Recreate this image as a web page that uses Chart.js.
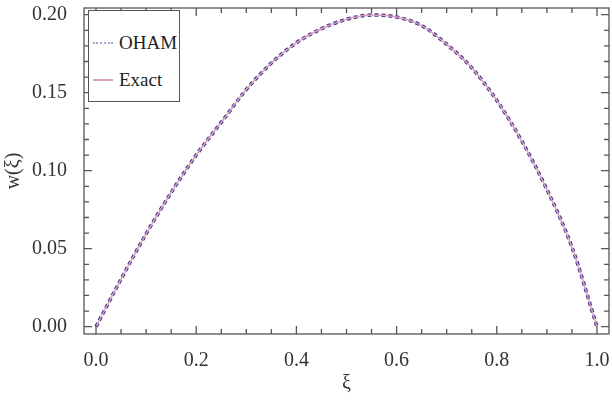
<!DOCTYPE html>
<html>
<head>
<meta charset="utf-8">
<script src="https://cdn.jsdelivr.net/npm/chart.js@4"></script>
<style>
  body { margin: 0; background: #fff; }
  #wrap { position: relative; width: 612px; height: 400px; }
  #legend {
    position: absolute; left: 88px; top: 10px; width: 92px; height: 92px;
    border: 1px solid #555; background: #fff; box-sizing: border-box;
    font-family: "Liberation Serif", "DejaVu Serif", serif; font-size: 19px; color: #222;
  }
  .item { position: absolute; left: 4px; display: flex; align-items: center; }
  .sample { width: 20px; height: 0; margin-right: 6px; }
</style>
</head>
<body>
<div id="wrap">
  <canvas id="chart" width="612" height="400"></canvas>
  <div id="legend">
    <div class="item" style="top:21px"><span class="sample" style="border-top:2px dotted #aaa4d8"></span>OHAM</div>
    <div class="item" style="top:58px"><span class="sample" style="border-top:2px solid #d8a2bf"></span>Exact</div>
  </div>
</div>
<script>
// values
const xi = [0, 0.05, 0.10, 0.15, 0.20, 0.25, 0.30, 0.35, 0.40, 0.45, 0.50,
            0.55, 0.60, 0.65, 0.70, 0.75, 0.80, 0.85, 0.90, 0.95, 1.00];
const exactW = [0, 0.0305, 0.0595, 0.086, 0.110, 0.131, 0.152, 0.169, 0.182, 0.191, 0.197,
                0.1998, 0.1985, 0.193, 0.181, 0.166, 0.145, 0.119, 0.088, 0.051, 0];
const ohamW = [0, 0.0305, 0.0595, 0.086, 0.110, 0.131, 0.152, 0.169, 0.182, 0.191, 0.197,
               0.1998, 0.1985, 0.193, 0.181, 0.166, 0.145, 0.119, 0.088, 0.051, 0];
const xTicks = [0, 0.2, 0.4, 0.6, 0.8, 1.0];
const yTicks = [0, 0.05, 0.10, 0.15, 0.20];
const xMinor = 0.05;
const yMinor = 0.01;

const serif = "Liberation Serif";

// frame with inward ticks on all four sides
const frame = {
  id: 'frame',
  afterDraw(chart) {
    const ctx = chart.ctx, a = chart.chartArea;
    const x = chart.scales.x, y = chart.scales.y;
    ctx.save();
    ctx.strokeStyle = '#555';
    ctx.lineWidth = 1.3;
    ctx.setLineDash([]);
    ctx.strokeRect(a.left, a.top, a.right - a.left, a.bottom - a.top);
    ctx.beginPath();
    for (let i = 0; i <= 20; i++) {
      const len = (i % 4 === 0) ? 8 : 5;
      const px = x.getPixelForValue(i * xMinor);
      ctx.moveTo(px, a.bottom);
      ctx.lineTo(px, a.bottom - len);
      ctx.moveTo(px, a.top);
      ctx.lineTo(px, a.top + len);
    }
    for (let i = 0; i <= 20; i++) {
      const len = (i % 5 === 0) ? 8 : 5;
      const py = y.getPixelForValue(i * yMinor);
      ctx.moveTo(a.left, py);
      ctx.lineTo(a.left + len, py);
      ctx.moveTo(a.right, py);
      ctx.lineTo(a.right - len, py);
    }
    ctx.stroke();
    ctx.restore();
  }
};

new Chart(document.getElementById('chart').getContext('2d'), {
  type: 'line',
  data: {
    datasets: [
      {
        label: 'Exact',
        data: xi.map((v, i) => ({x: v, y: exactW[i]})),
        borderColor: '#d8a2bf',
        borderWidth: 1.5,
        pointRadius: 0,
        cubicInterpolationMode: 'monotone',
        fill: false
      },
      {
        label: 'OHAM',
        data: xi.map((v, i) => ({x: v, y: ohamW[i]})),
        borderColor: '#45358f',
        borderWidth: 3.5,
        borderDash: [4, 3],
        borderCapStyle: 'butt',
        pointRadius: 0,
        cubicInterpolationMode: 'monotone',
        fill: false
      }
    ]
  },
  options: {
    responsive: false,
    animation: false,
    layout: { padding: { top: 8, right: 3, left: 0, bottom: 0 } },
    plugins: { legend: { display: false }, tooltip: { enabled: false } },
    scales: {
      x: {
        type: 'linear',
        min: -0.024, max: 1.024,
        afterBuildTicks: s => { s.ticks = xTicks.map(v => ({value: v})); },
        afterFit: s => { s.height = 66; s.paddingLeft = 0; s.paddingRight = 0; },
        grid: { display: false },
        border: { display: false },
        ticks: {
          callback: v => v.toFixed(1),
          font: { family: serif, size: 20 },
          color: '#333',
          padding: 7,
          maxRotation: 0
        },
        title: { display: true, text: 'ξ', font: { family: serif, size: 20 }, color: '#333', padding: { top: 0 } }
      },
      y: {
        type: 'linear',
        min: -0.0047, max: 0.2043,
        afterBuildTicks: s => { s.ticks = yTicks.map(v => ({value: v})); },
        afterFit: s => { s.width = 84; s.paddingTop = 0; s.paddingBottom = 0; },
        grid: { display: false },
        border: { display: false },
        ticks: {
          callback: v => v.toFixed(2),
          font: { family: serif, size: 20 },
          color: '#333',
          padding: 9
        },
        title: { display: true, text: 'w(ξ)', font: { family: serif, size: 20 }, color: '#333', padding: { top: 2, bottom: 0 } }
      }
    }
  },
  plugins: [frame]
});
</script>
</body>
</html>
